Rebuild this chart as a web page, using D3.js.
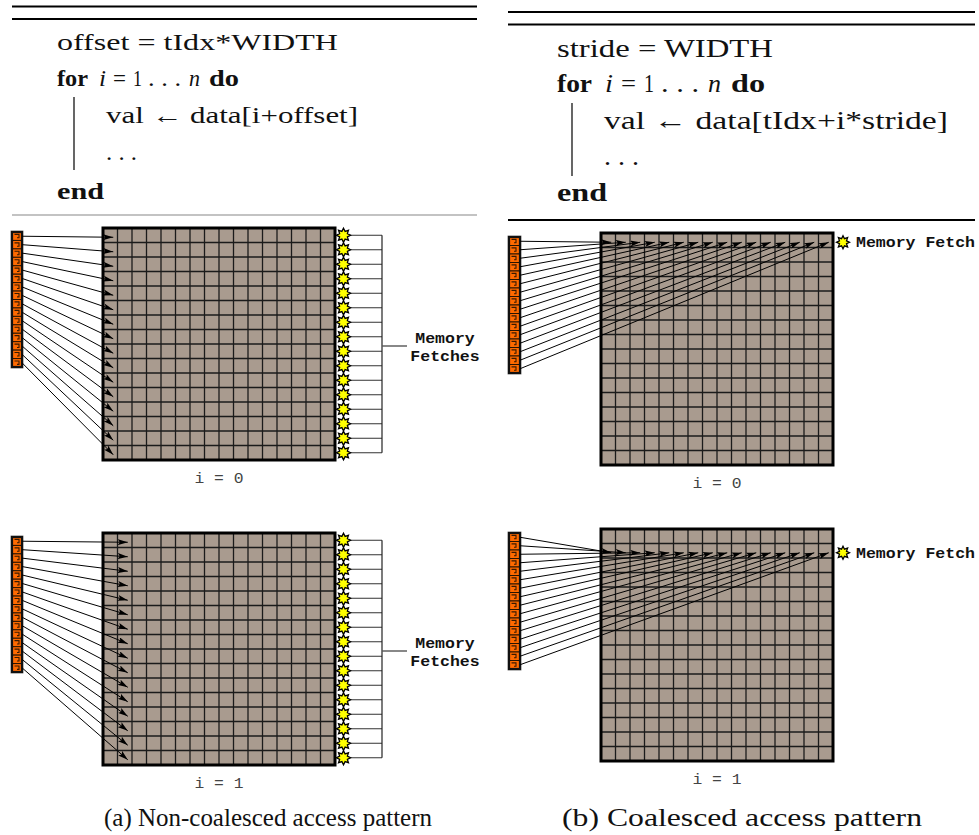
<!DOCTYPE html>
<html>
<head>
<meta charset="utf-8">
<script src="https://cdn.jsdelivr.net/npm/d3@7"></script>
<style>
  body { margin: 0; background: #fff; }
  svg { display: block; }
</style>
</head>
<body>
<svg id="fig" width="979" height="835"></svg>
<script>
// ---- data -------------------------------------------------------------
// one warp of 16 threads reading a 16 x 16 block of words
const threads = [0, 1, 2, 3, 4, 5, 6, 7, 8, 9, 10, 11, 12, 13, 14, 15];
const memRows = [0, 1, 2, 3, 4, 5, 6, 7, 8, 9, 10, 11, 12, 13, 14, 15];
const memCols = [0, 1, 2, 3, 4, 5, 6, 7, 8, 9, 10, 11, 12, 13, 14, 15];

// loop iterations drawn for each pattern
const iterations = [0, 1];
const iterationLabels = ["i = 0", "i = 1"];
// non-coalesced: thread t reads row t, column i
const nonCoalescedColumn = [0, 1];
// coalesced: thread t reads row i, column t
const coalescedRow = [0, 1];

// pseudo-code listings
const codeA = ["offset = tIdx*WIDTH", "val \u2190 data[i+offset]", ". . .", "end"];
const codeB = ["stride = WIDTH", "val \u2190 data[tIdx+i*stride]", ". . .", "end"];
const forLine = [
  { t: "for", style: "bold" }, { t: "i", style: "italic" }, { t: "=", style: "normal" },
  { t: "1", style: "normal" }, { t: ". . .", style: "normal" }, { t: "n", style: "italic" },
  { t: "do", style: "bold" }
];
const fetchLabelA = ["Memory", "Fetches"];
const fetchLabelB = "Memory Fetch";
const captions = ["(a) Non-coalesced access pattern", "(b) Coalesced access pattern"];

// ---- drawing ----------------------------------------------------------
const svg = d3.select("#fig");
const SERIF = "'Liberation Serif', 'Times New Roman', serif";
const MONO = "'Liberation Mono', 'Courier New', monospace";

const defs = svg.append("defs");
defs.append("marker")
  .attr("id", "head")
  .attr("markerUnits", "userSpaceOnUse")
  .attr("viewBox", "0 0 10 6")
  .attr("markerWidth", 10).attr("markerHeight", 6)
  .attr("refX", 10).attr("refY", 3)
  .attr("orient", "auto")
  .append("path").attr("d", "M0,0 L10,3 L0,6 L2,3 Z").attr("fill", "#000");

// eight-pointed star used for a memory fetch
function starPath(R, r) {
  const pts = d3.range(16).map(k => [k * Math.PI / 8, k % 2 ? r : R]);
  return d3.lineRadial().curve(d3.curveLinearClosed)(pts);
}
function drawStar(g, cx, cy, R = 7, r = 4.2) {
  g.append("path").attr("d", starPath(R, r))
    .attr("transform", `translate(${cx},${cy})`)
    .attr("fill", "#ffff00").attr("stroke", "#000").attr("stroke-width", 1.3)
    .attr("stroke-linejoin", "miter");
}

// ---- code listings ----
function drawListing(g, o) {
  g.append("line").attr("x1", o.x0).attr("x2", o.x1).attr("y1", o.rule1).attr("y2", o.rule1)
    .attr("stroke", "#000").attr("stroke-width", 2);
  g.append("line").attr("x1", o.x0).attr("x2", o.x1).attr("y1", o.rule2).attr("y2", o.rule2)
    .attr("stroke", "#000").attr("stroke-width", 2);
  g.append("line").attr("x1", o.x0).attr("x2", o.x1).attr("y1", o.rule3).attr("y2", o.rule3)
    .attr("stroke", o.rule3Color).attr("stroke-width", o.rule3Width);

  const txt = (s, x, y, len, weight, style) => g.append("text")
    .attr("x", x).attr("y", y)
    .attr("font-family", SERIF).attr("font-size", o.fs)
    .attr("font-weight", weight || "normal").attr("font-style", style || "normal")
    .attr("textLength", len).attr("lengthAdjust", "spacingAndGlyphs")
    .attr("fill", "#111")
    .text(s);

  txt(o.code[0], o.tx, o.base[0], o.len[0]);
  forLine.forEach((p, k) => {
    txt(p.t, o.forX[k], o.base[1], o.forLen[k],
      p.style === "bold" ? "bold" : "normal", p.style === "italic" ? "italic" : "normal");
  });
  txt(o.code[1], o.ix, o.base[2], o.len[1]);
  txt(o.code[2], o.ix, o.base[3], o.len[2]);
  txt(o.code[3], o.tx, o.base[4], o.len[3], "bold");
  g.append("line").attr("x1", o.barX).attr("x2", o.barX).attr("y1", o.barY0).attr("y2", o.barY1)
    .attr("stroke", "#000").attr("stroke-width", 1.2);
}

drawListing(svg.append("g"), {
  x0: 12, x1: 477, rule1: 6.5, rule2: 19, rule3: 215, rule3Color: "#888", rule3Width: 1.2,
  fs: 23, code: codeA, tx: 57, ix: 106,
  base: [50, 86, 123, 160, 199],
  len: [281, 252, 31, 47],
  forX: [57, 99, 113, 133, 148, 189, 209],
  forLen: [31, 7, 13, 9, 33, 11, 30],
  barX: 74, barY0: 97, barY1: 170
});
drawListing(svg.append("g"), {
  x0: 508, x1: 975, rule1: 12, rule2: 24.5, rule3: 220, rule3Color: "#000", rule3Width: 2,
  fs: 25, code: codeB, tx: 557, ix: 604,
  base: [57, 92, 129, 165, 201],
  len: [216, 344, 35, 50],
  forX: [557, 605, 621, 644, 661, 708, 731],
  forLen: [35, 8, 15, 10, 38, 13, 34],
  barX: 572, barY0: 103, barY1: 176
});

// ---- memory grid + warp ----
const CELL = 14.5;
function drawBlock(g, o) {
  const x = d3.scaleBand().domain(memCols).range([o.gx, o.gx + CELL * memCols.length]);
  const y = d3.scaleBand().domain(memRows).range([o.gy, o.gy + CELL * memRows.length]);
  const ty = d3.scaleBand().domain(threads).range([o.by, o.by + o.bh]);
  const [gx0, gx1] = x.range(), [gy0, gy1] = y.range();

  // memory block
  g.append("rect").attr("x", gx0).attr("y", gy0).attr("width", gx1 - gx0).attr("height", gy1 - gy0)
    .attr("fill", "#a99b8f");
  g.selectAll(null).data(memCols.slice(1)).join("line")
    .attr("x1", d => x(d)).attr("x2", d => x(d)).attr("y1", gy0).attr("y2", gy1)
    .attr("stroke", "#1b1b1b").attr("stroke-width", 1.3);
  g.selectAll(null).data(memRows.slice(1)).join("line")
    .attr("y1", d => y(d)).attr("y2", d => y(d)).attr("x1", gx0).attr("x2", gx1)
    .attr("stroke", "#1b1b1b").attr("stroke-width", 1.3);
  g.append("rect").attr("x", gx0).attr("y", gy0).attr("width", gx1 - gx0).attr("height", gy1 - gy0)
    .attr("fill", "none").attr("stroke", "#000").attr("stroke-width", 3);

  // warp of threads
  const bx = o.bx, bw = o.bw;
  g.append("rect").attr("x", bx - 1).attr("y", o.by - 1).attr("width", bw + 2).attr("height", o.bh + 2)
    .attr("fill", "none").attr("stroke", "#999").attr("stroke-width", 1);
  g.selectAll(null).data(threads).join("rect")
    .attr("x", bx).attr("y", d => ty(d)).attr("width", bw).attr("height", ty.bandwidth())
    .attr("fill", "#ff6a00").attr("stroke", "#2a1400").attr("stroke-width", 1);
  g.selectAll(null).data(threads).join("path")
    .attr("d", d => {
      const x0 = bx + 2.5, y0 = ty(d) + 2.4;
      return `M${x0},${y0} H${x0 + 4.5} V${y0 + 3.4} H${x0 + 2.5}`;
    })
    .attr("fill", "none").attr("stroke", "#3a1a00").attr("stroke-width", 1.1);
  g.append("rect").attr("x", bx).attr("y", o.by).attr("width", bw).attr("height", o.bh)
    .attr("fill", "none").attr("stroke", "#111").attr("stroke-width", 2.2);

  // thread -> word arrows
  g.selectAll(null).data(threads).join("line")
    .attr("x1", bx + bw).attr("y1", d => ty(d) + ty.bandwidth() / 2)
    .attr("x2", d => x(o.col(d)) + CELL / 2 + 3)
    .attr("y2", d => y(o.row(d)) + CELL / 2 + 2)
    .attr("stroke", "#000").attr("stroke-width", 1)
    .attr("marker-end", "url(#head)");

  // iteration label
  g.append("text").attr("x", (gx0 + gx1) / 2).attr("y", gy1 + 23)
    .attr("text-anchor", "middle")
    .attr("font-family", MONO).attr("font-size", 14).attr("fill", "#444")
    .attr("textLength", 49).attr("lengthAdjust", "spacingAndGlyphs")
    .text(o.label);
  return { x, y, gx0, gx1, gy0, gy1 };
}

// (a) non-coalesced: every thread walks its own row
iterations.forEach((it, k) => {
  const g = svg.append("g");
  const gy = [228, 533][k];
  const s = drawBlock(g, {
    gx: 103, gy, bx: 12, bw: 10, by: gy + 4, bh: 135,
    row: t => memRows[t], col: () => memCols[nonCoalescedColumn[it]],
    label: iterationLabels[it]
  });
  const sx = s.gx1 + 8.5, bracketX = 382;
  memRows.forEach(r => {
    const cy = s.y(r) + CELL / 2;
    g.append("line").attr("x1", sx + 6).attr("x2", bracketX).attr("y1", cy).attr("y2", cy)
      .attr("stroke", "#333").attr("stroke-width", 1);
  });
  memRows.forEach(r => drawStar(g, sx, s.y(r) + CELL / 2));
  const yTop = s.y(memRows[0]) + CELL / 2, yBot = s.y(memRows[memRows.length - 1]) + CELL / 2;
  g.append("line").attr("x1", bracketX).attr("x2", bracketX).attr("y1", yTop).attr("y2", yBot)
    .attr("stroke", "#222").attr("stroke-width", 1.2);
  const ym = (s.gy0 + s.gy1) / 2 + 2;
  g.append("line").attr("x1", bracketX).attr("x2", 407).attr("y1", ym).attr("y2", ym)
    .attr("stroke", "#555").attr("stroke-width", 1.4);
  fetchLabelA.forEach((t, j) => {
    g.append("text").attr("x", 445).attr("y", ym - 3 + j * 18)
      .attr("text-anchor", "middle")
      .attr("font-family", MONO).attr("font-weight", "bold").attr("font-size", 15)
      .attr("fill", "#111")
      .attr("textLength", t.length * 9.9).attr("lengthAdjust", "spacingAndGlyphs")
      .text(t);
  });
});

// (b) coalesced: the warp reads one contiguous row per iteration
iterations.forEach((it, k) => {
  const g = svg.append("g");
  const gy = [233, 529][k];
  const s = drawBlock(g, {
    gx: 601, gy, bx: 509, bw: 11, by: gy + 4, bh: 136,
    row: () => memRows[coalescedRow[it]], col: t => memCols[t],
    label: iterationLabels[it]
  });
  const rowY = s.y(memRows[coalescedRow[it]]) + CELL / 2 + 2;
  drawStar(g, 843, rowY, 6.5, 3.8);
  g.append("text").attr("x", 856).attr("y", rowY + 5)
    .attr("font-family", MONO).attr("font-weight", "bold").attr("font-size", 15)
    .attr("fill", "#111")
    .attr("textLength", 119).attr("lengthAdjust", "spacingAndGlyphs")
    .text(fetchLabelB);
});

// ---- captions ----
svg.append("text").attr("x", 104).attr("y", 826)
  .attr("font-family", SERIF).attr("font-size", 25).attr("fill", "#111")
  .attr("textLength", 328).attr("lengthAdjust", "spacingAndGlyphs")
  .text(captions[0]);
svg.append("text").attr("x", 562).attr("y", 826)
  .attr("font-family", SERIF).attr("font-size", 25).attr("fill", "#111")
  .attr("textLength", 360).attr("lengthAdjust", "spacingAndGlyphs")
  .text(captions[1]);
</script>
</body>
</html>
